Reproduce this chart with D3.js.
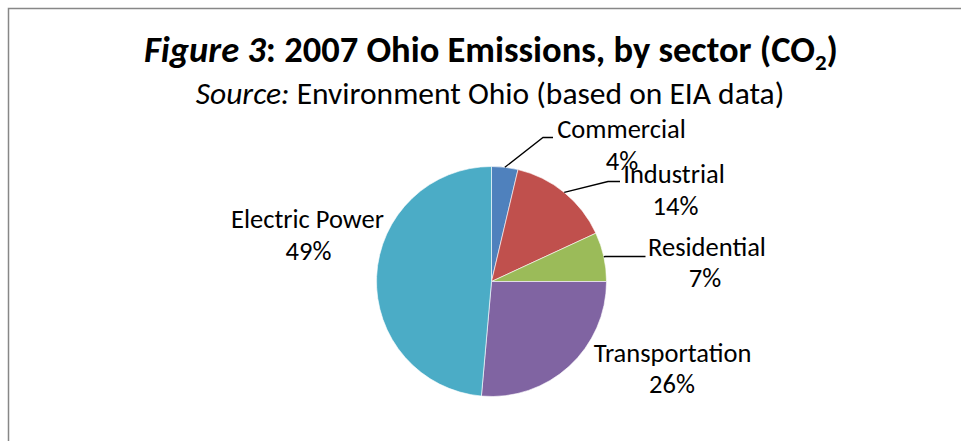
<!DOCTYPE html>
<html lang="en">
<head>
    <meta charset="UTF-8">
    <title>2007 Ohio Emissions</title>
    <script src="https://d3js.org/d3.v7.min.js"></script>
    <style>
        body { margin: 0; background: #fff; }
        text { font-family: Carlito, "Open Sans", sans-serif; fill: #000; }
    </style>
</head>
<body>
<script>
    // data (share of CO2, %)
    var categories = ['Commercial', 'Industrial', 'Residential', 'Transportation', 'Electric Power'];
    var values = [3.7, 14.4, 6.9, 26.4, 48.6];
    var colors = ['#4F81BD', '#C0504D', '#9BBB59', '#8064A2', '#4BACC6'];

    var width = 961, height = 441;
    var cx = 491.5, cy = 281.5, radius = 115;

    var svg = d3.select('body').append('svg').attr('width', width).attr('height', height);

    // chart frame (runs off the right/bottom edge)
    svg.append('rect')
        .attr('x', 8.5).attr('y', 8.5)
        .attr('width', 1000).attr('height', 1000)
        .attr('fill', 'none')
        .attr('stroke', '#878787')
        .attr('stroke-width', 1.5);

    // title
    var title = svg.append('text')
        .attr('x', 491).attr('y', 62)
        .attr('text-anchor', 'middle')
        .attr('font-size', '36.5px')
        .attr('font-weight', 'bold');
    title.append('tspan').attr('font-style', 'italic').text('Figure 3');
    title.append('tspan').text(': 2007 Ohio Emissions, by sector (CO');
    title.append('tspan').attr('font-size', '23px').attr('dy', 8).text('2');
    title.append('tspan').attr('dy', -8).text(')');

    var sub = svg.append('text')
        .attr('x', 490).attr('y', 104)
        .attr('text-anchor', 'middle')
        .attr('font-size', '31.5px');
    sub.append('tspan').attr('font-style', 'italic').text('Source:');
    sub.append('tspan').text(' Environment Ohio (based on EIA data)');

    var pie = d3.pie().sort(null).value(d => d.value);
    var arc = d3.arc().innerRadius(0).outerRadius(radius);
    var data = categories.map((c, i) => ({name: c, value: values[i], color: colors[i]}));
    var arcs = pie(data);

    var g = svg.append('g').attr('transform', 'translate(' + cx + ',' + cy + ')');
    g.selectAll('path.slice').data(arcs).enter().append('path')
        .attr('class', 'slice')
        .attr('d', arc)
        .attr('fill', d => d.data.color)
        .attr('stroke', '#fff')
        .attr('stroke-width', 0.6);

    // label anchors (centre x, baseline y) relative to pie centre: [name, percent]
    var labelPos = [
        [[130, -144], [130.5, -111.5]],
        [[182.5, -98.5], [184, -66.5]],
        [[215.5, -25.5], [213.5, 5.5]],
        [[181, 80.5], [180.5, 111.5]],
        [[-184, -54], [-183, -21.5]]
    ];
    // leader lines: elbow and end point, start is on the slice edge
    var leaders = [
        [[51.5, -144], [61.5, -144]],
        [[116.5, -100], [128.5, -100]],
        [[114, -25], [154, -25]]
    ];
    leaders.forEach(function (p, i) {
        var a = arcs[i];
        var mid = (a.startAngle + a.endAngle) / 2;
        var edge = [Math.sin(mid) * radius, -Math.cos(mid) * radius];
        g.append('path')
            .attr('d', d3.line()([edge, p[0], p[1]]))
            .attr('fill', 'none')
            .attr('stroke', '#000')
            .attr('stroke-width', 1.3);
    });

    arcs.forEach(function (d, i) {
        var pos = labelPos[i];
        g.append('text')
            .attr('x', pos[0][0]).attr('y', pos[0][1])
            .attr('text-anchor', 'middle')
            .attr('font-size', '26.5px')
            .text(d.data.name);
        g.append('text')
            .attr('x', pos[1][0]).attr('y', pos[1][1])
            .attr('text-anchor', 'middle')
            .attr('font-size', '26.5px')
            .text(Math.round(d.data.value) + '%');
    });
</script>
</body>
</html>
